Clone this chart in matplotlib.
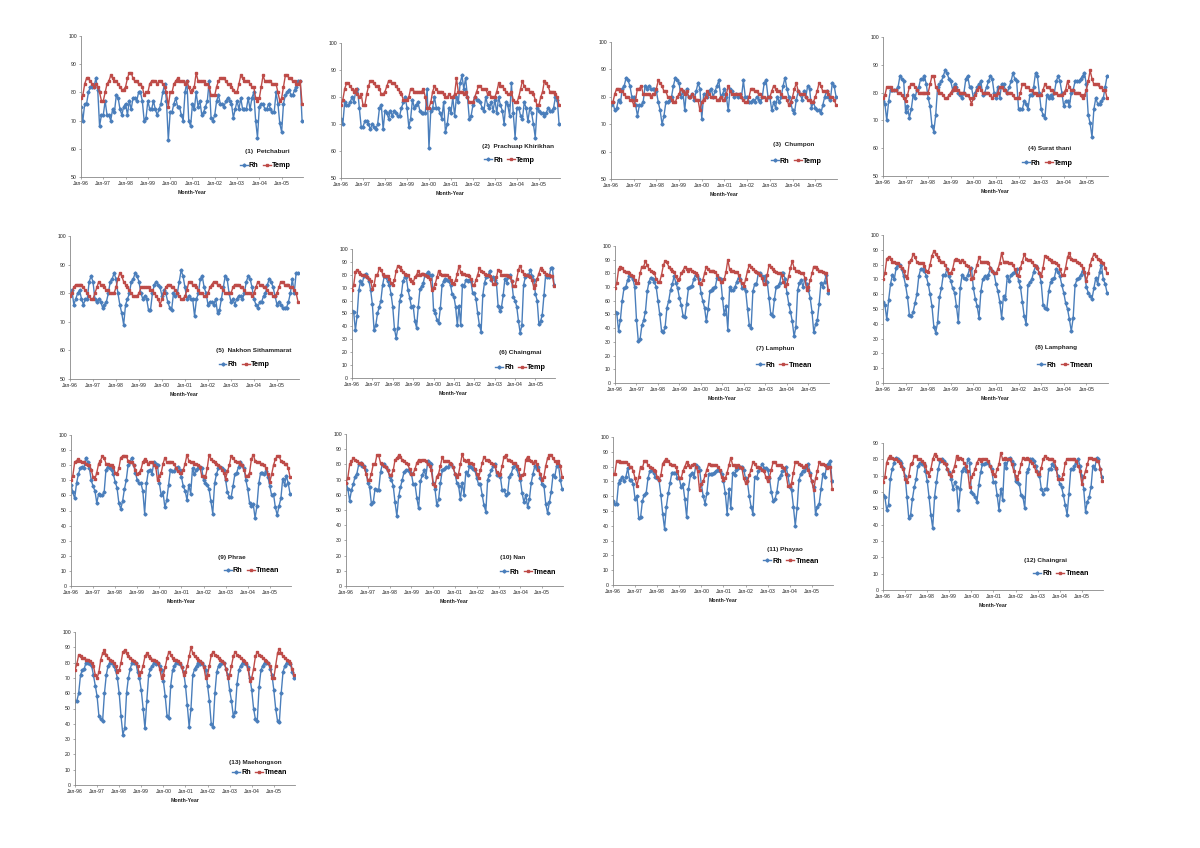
import matplotlib
matplotlib.use("Agg")
import matplotlib.pyplot as plt
from matplotlib.lines import Line2D

plt.rcParams['font.family'] = ['Liberation Sans', 'DejaVu Sans']

# ---------------- DATA ----------------
tick_labels = ["Jan-96", "Jan-97", "Jan-98", "Jan-99", "Jan-00",
               "Jan-01", "Jan-02", "Jan-03", "Jan-04", "Jan-05"]

station_labels = ["(1)  Petchaburi", "(2)  Prachuap Khirikhan", "(3)  Chumpon",
                  "(4) Surat thani", "(5)  Nakhon Sithammarat", "(6) Chaingmai",
                  "(7) Lamphun", "(8) Lamphang", "(9) Phrae", "(10) Nan",
                  "(11) Phayao", "(12) Chaingrai", "(13) Maehongson"]

second_series_names = ["Temp", "Temp", "Temp", "Temp", "Temp", "Temp",
                       "Tmean", "Tmean", "Tmean", "Tmean", "Tmean", "Tmean", "Tmean"]

y_ranges = [(50, 100)] * 5 + [(0, 100)] * 6 + [(0, 90), (0, 100)]

rh_petchaburi = [
    75, 70, 76, 76, 80, 82, 82, 82, 85, 81, 68, 72,
    72, 77, 72, 72, 70, 74, 73, 79, 78, 74, 72, 75,
    76, 72, 77, 74, 78, 78, 77, 80, 80, 77, 70, 71,
    77, 74, 74, 77, 74, 72, 74, 76, 80, 83, 77, 63,
    73, 73, 76, 78, 75, 75, 72, 70, 80, 84, 70, 68,
    76, 74, 80, 75, 77, 72, 73, 75, 77, 84, 71, 70,
    72, 77, 79, 76, 76, 75, 77, 78, 77, 76, 71, 74,
    77, 74, 78, 74, 74, 74, 78, 74, 78, 80, 70, 64,
    75, 76, 76, 74, 74, 76, 74, 73, 73, 80, 76, 69,
    66, 76, 79, 80, 81, 79, 79, 81, 82, 84, 84, 70]
temp_petchaburi = [
    78, 79, 83, 85, 85, 84, 83, 82, 83, 82, 80, 77,
    77, 80, 83, 84, 86, 85, 84, 84, 83, 82, 81, 81,
    82, 85, 87, 87, 85, 84, 84, 83, 83, 82, 79, 80,
    80, 83, 84, 84, 84, 83, 84, 84, 83, 82, 80, 75,
    80, 80, 83, 84, 85, 84, 84, 84, 83, 84, 82, 80,
    81, 82, 87, 84, 84, 84, 84, 83, 83, 82, 79, 79,
    79, 82, 84, 85, 85, 85, 84, 83, 83, 82, 81, 80,
    80, 83, 86, 85, 84, 84, 84, 83, 82, 82, 78, 77,
    78, 82, 86, 84, 84, 84, 84, 83, 83, 83, 80, 77,
    78, 82, 86, 86, 85, 85, 84, 84, 83, 83, 84, 76]

rh_prachuap = [
    72, 70, 78, 77, 77, 78, 80, 78, 82, 83, 76, 69,
    69, 71, 71, 70, 68, 70, 69, 68, 70, 76, 77, 68,
    75, 74, 72, 75, 73, 75, 74, 73, 73, 76, 78, 80,
    76, 69, 72, 79, 76, 77, 78, 75, 74, 74, 74, 83,
    61, 75, 76, 80, 76, 76, 74, 72, 78, 67, 70, 76,
    74, 80, 73, 80, 78, 85, 88, 83, 87, 80, 72, 73,
    77, 80, 79, 79, 78, 76, 75, 80, 77, 76, 78, 75,
    79, 74, 80, 77, 75, 70, 78, 77, 73, 85, 74, 65,
    76, 76, 73, 72, 78, 76, 71, 76, 74, 70, 65, 76,
    75, 74, 74, 73, 74, 76, 75, 75, 76, 80, 79, 70]
temp_prachuap = [
    77, 79, 83, 85, 85, 84, 83, 82, 83, 81, 80, 81,
    77, 77, 81, 84, 86, 86, 85, 84, 84, 83, 81, 81,
    82, 84, 86, 86, 85, 85, 84, 83, 82, 81, 79, 79,
    79, 80, 83, 83, 82, 82, 82, 82, 82, 83, 80, 76,
    76, 78, 82, 84, 83, 82, 82, 82, 81, 80, 80, 81,
    80, 80, 81, 87, 82, 82, 82, 81, 82, 80, 78, 78,
    78, 80, 82, 84, 84, 83, 83, 83, 81, 82, 80, 80,
    80, 82, 85, 84, 84, 83, 82, 81, 81, 82, 79, 78,
    78, 80, 83, 86, 84, 83, 83, 82, 82, 81, 79, 77,
    77, 80, 82, 86, 85, 84, 82, 82, 82, 81, 80, 77]

rh_chumpon = [
    77, 78, 75, 76, 79, 78, 83, 84, 87, 86, 84, 80,
    80, 77, 73, 77, 77, 78, 84, 83, 84, 83, 83, 83,
    82, 78, 75, 70, 73, 78, 78, 79, 80, 84, 87, 86,
    85, 80, 82, 75, 83, 80, 80, 81, 79, 82, 85, 83,
    72, 81, 81, 80, 82, 83, 80, 82, 84, 86, 80, 81,
    83, 80, 75, 83, 82, 80, 81, 80, 81, 80, 86, 80,
    80, 78, 78, 79, 78, 80, 79, 78, 80, 85, 86, 80,
    80, 75, 78, 76, 80, 78, 80, 84, 87, 83, 80, 78,
    75, 74, 79, 82, 81, 79, 82, 80, 84, 83, 76, 78,
    76, 75, 75, 74, 77, 80, 82, 80, 79, 85, 84, 80]
temp_chumpon = [
    78, 78, 81, 83, 83, 82, 82, 81, 80, 80, 79, 79,
    77, 79, 83, 83, 84, 81, 81, 81, 81, 80, 81, 81,
    83, 86, 85, 84, 82, 82, 80, 80, 79, 78, 78, 80,
    81, 83, 82, 81, 82, 80, 80, 81, 80, 79, 79, 75,
    78, 79, 80, 82, 81, 80, 80, 80, 79, 79, 80, 79,
    79, 81, 84, 82, 81, 81, 81, 81, 81, 80, 79, 78,
    78, 80, 83, 83, 82, 82, 81, 81, 80, 80, 79, 80,
    80, 82, 84, 83, 82, 82, 81, 80, 80, 79, 77, 78,
    80, 83, 85, 82, 81, 81, 81, 80, 79, 79, 78, 78,
    80, 82, 85, 84, 82, 82, 82, 81, 80, 80, 79, 77]

rh_surat = [
    77, 76, 70, 77, 81, 81, 81, 81, 82, 86, 85, 84,
    73, 75, 71, 74, 79, 78, 81, 82, 85, 85, 86, 83,
    78, 75, 68, 66, 72, 82, 83, 84, 86, 88, 87, 85,
    84, 81, 83, 82, 80, 79, 78, 80, 85, 86, 82, 82,
    78, 80, 82, 83, 84, 79, 80, 82, 84, 86, 85, 80,
    78, 82, 78, 83, 83, 81, 80, 82, 84, 87, 85, 84,
    74, 74, 74, 77, 76, 74, 79, 79, 82, 87, 86, 80,
    74, 72, 71, 79, 78, 79, 78, 80, 84, 86, 84, 80,
    75, 77, 77, 75, 80, 81, 84, 84, 84, 85, 86, 87,
    83, 72, 69, 64, 74, 78, 76, 76, 77, 78, 82, 86]
temp_surat = [
    78, 79, 82, 82, 82, 81, 81, 81, 80, 80, 79, 78,
    77, 79, 82, 83, 83, 82, 81, 80, 80, 80, 80, 80,
    80, 83, 86, 86, 82, 81, 80, 80, 79, 78, 78, 79,
    80, 81, 82, 81, 81, 80, 80, 80, 79, 79, 78, 76,
    78, 79, 81, 82, 81, 80, 80, 80, 80, 79, 78, 79,
    79, 80, 82, 82, 81, 81, 80, 80, 80, 79, 78, 78,
    78, 80, 83, 83, 82, 82, 81, 81, 80, 80, 79, 79,
    79, 81, 83, 82, 82, 81, 81, 80, 80, 79, 79, 79,
    80, 81, 84, 82, 81, 81, 80, 80, 80, 79, 78, 79,
    81, 84, 88, 85, 83, 83, 83, 82, 82, 81, 81, 78]

rh_nakhon = [
    80, 81, 76, 78, 80, 81, 78, 76, 78, 78, 84, 86,
    84, 78, 77, 78, 77, 75, 76, 77, 80, 84, 85, 87,
    85, 80, 76, 73, 69, 76, 78, 80, 84, 85, 87, 86,
    84, 80, 78, 79, 78, 74, 74, 80, 83, 84, 83, 82,
    79, 81, 80, 77, 75, 74, 80, 79, 80, 84, 88, 86,
    82, 78, 79, 78, 78, 72, 78, 80, 85, 86, 82, 80,
    76, 77, 77, 76, 78, 73, 74, 78, 82, 86, 85, 80,
    77, 78, 76, 78, 79, 79, 78, 80, 84, 86, 85, 82,
    78, 76, 75, 77, 77, 79, 80, 83, 85, 84, 82, 79,
    76, 77, 76, 75, 75, 75, 77, 80, 85, 80, 87, 87]
temp_nakhon = [
    79, 80, 82, 83, 83, 83, 83, 82, 81, 80, 79, 78,
    78, 80, 82, 84, 83, 83, 82, 81, 81, 80, 80, 80,
    82, 85, 87, 86, 84, 83, 82, 81, 80, 79, 79, 79,
    80, 82, 82, 82, 82, 82, 81, 81, 80, 79, 78, 76,
    78, 80, 82, 83, 83, 82, 82, 81, 80, 79, 78, 78,
    79, 81, 84, 84, 83, 83, 82, 81, 80, 80, 79, 79,
    80, 82, 83, 84, 84, 83, 83, 82, 81, 80, 80, 80,
    80, 82, 83, 83, 83, 82, 82, 81, 80, 80, 80, 79,
    80, 82, 84, 83, 83, 82, 82, 81, 80, 80, 79, 79,
    80, 82, 84, 84, 83, 83, 83, 82, 82, 81, 80, 77]

rh_chaingmai = [
    52, 51, 37, 48, 68, 75, 73, 79, 81, 78, 75, 68,
    57, 37, 41, 50, 55, 60, 72, 79, 78, 75, 72, 65,
    55, 38, 31, 39, 60, 64, 75, 78, 78, 68, 62, 55,
    56, 44, 39, 55, 69, 71, 74, 80, 81, 82, 80, 80,
    53, 50, 45, 43, 54, 72, 75, 77, 76, 75, 72, 65,
    63, 55, 41, 56, 41, 72, 71, 76, 75, 76, 75, 66,
    66, 61, 50, 41, 36, 64, 74, 78, 79, 83, 76, 78,
    76, 74, 56, 52, 55, 64, 77, 74, 78, 80, 75, 63,
    60, 55, 44, 35, 41, 72, 78, 80, 80, 84, 79, 76,
    65, 60, 42, 44, 49, 64, 80, 78, 78, 85, 85, 72]
temp_chaingmai = [
    68, 72, 82, 84, 82, 81, 80, 80, 79, 78, 77, 75,
    69, 72, 80, 80, 85, 84, 81, 79, 79, 79, 77, 74,
    72, 76, 83, 87, 86, 84, 82, 81, 80, 80, 77, 75,
    74, 78, 80, 83, 80, 81, 81, 80, 79, 78, 77, 68,
    70, 73, 78, 83, 81, 80, 80, 80, 80, 78, 76, 74,
    73, 76, 81, 87, 82, 81, 81, 80, 80, 79, 77, 72,
    72, 76, 80, 85, 83, 82, 81, 80, 80, 79, 77, 73,
    73, 78, 84, 83, 80, 80, 80, 80, 79, 78, 75, 71,
    71, 77, 84, 87, 83, 81, 80, 80, 79, 78, 76, 70,
    72, 77, 81, 85, 84, 82, 81, 80, 80, 79, 79, 71]

rh_lamphun = [
    52, 51, 38, 46, 60, 69, 70, 75, 78, 78, 76, 70,
    46, 31, 32, 42, 46, 52, 67, 74, 77, 76, 74, 70,
    60, 50, 38, 37, 41, 55, 60, 68, 72, 78, 73, 69,
    62, 57, 49, 48, 58, 69, 70, 71, 76, 79, 78, 76,
    66, 60, 55, 45, 54, 67, 68, 69, 70, 77, 77, 76,
    62, 50, 56, 39, 70, 68, 68, 70, 74, 77, 76, 69,
    69, 67, 54, 42, 40, 67, 72, 72, 80, 80, 78, 75,
    78, 74, 62, 50, 49, 61, 70, 71, 73, 80, 80, 76,
    66, 58, 52, 45, 34, 41, 68, 73, 75, 70, 76, 72,
    68, 62, 52, 37, 43, 46, 58, 73, 70, 74, 79, 66]
tmean_lamphun = [
    69, 73, 83, 85, 84, 82, 81, 81, 80, 79, 78, 75,
    73, 73, 80, 85, 85, 89, 86, 83, 82, 81, 80, 76,
    74, 74, 79, 86, 89, 88, 85, 83, 82, 81, 78, 75,
    76, 80, 82, 85, 83, 82, 83, 82, 81, 80, 79, 73,
    72, 75, 80, 85, 83, 82, 82, 82, 81, 79, 76, 74,
    74, 76, 81, 90, 83, 82, 82, 81, 81, 79, 75, 73,
    71, 76, 82, 86, 85, 83, 82, 81, 80, 79, 77, 72,
    72, 79, 86, 85, 83, 82, 81, 80, 80, 79, 74, 71,
    72, 78, 84, 89, 84, 82, 82, 81, 80, 80, 77, 68,
    70, 75, 80, 85, 85, 83, 82, 82, 81, 80, 80, 68]

rh_lamphang = [
    55, 53, 43, 56, 67, 73, 70, 78, 80, 80, 77, 72,
    66, 58, 46, 45, 48, 54, 60, 72, 77, 77, 76, 72,
    67, 60, 52, 38, 34, 41, 58, 64, 73, 73, 77, 72,
    69, 64, 61, 52, 41, 64, 73, 71, 70, 73, 77, 78,
    64, 57, 52, 44, 62, 70, 72, 71, 73, 78, 76, 74,
    67, 62, 55, 44, 59, 57, 72, 69, 73, 74, 75, 77,
    69, 65, 55, 45, 40, 66, 68, 70, 75, 79, 78, 74,
    68, 53, 51, 50, 62, 68, 70, 71, 77, 75, 72, 66,
    61, 54, 50, 43, 35, 44, 66, 70, 71, 73, 76, 74,
    65, 61, 59, 57, 64, 71, 67, 75, 80, 70, 67, 61]
tmean_lamphang = [
    70, 74, 84, 85, 84, 82, 82, 81, 81, 79, 78, 76,
    72, 71, 82, 83, 87, 85, 82, 81, 81, 81, 79, 76,
    75, 80, 86, 89, 87, 85, 83, 82, 82, 80, 77, 74,
    74, 77, 83, 84, 83, 82, 83, 82, 80, 79, 78, 70,
    71, 76, 80, 85, 82, 82, 82, 82, 81, 78, 76, 74,
    74, 77, 81, 88, 82, 82, 82, 81, 81, 80, 77, 73,
    72, 78, 82, 87, 84, 83, 83, 82, 80, 79, 78, 74,
    72, 78, 86, 85, 84, 83, 82, 82, 81, 80, 77, 73,
    73, 78, 85, 88, 84, 83, 83, 82, 81, 80, 78, 75,
    69, 74, 80, 84, 87, 86, 84, 83, 82, 81, 78, 74]

rh_phrae = [
    67, 62, 58, 68, 74, 78, 79, 78, 85, 82, 78, 70,
    66, 63, 55, 61, 60, 60, 62, 77, 79, 78, 77, 74,
    69, 65, 55, 51, 56, 64, 70, 80, 82, 85, 80, 75,
    70, 68, 68, 63, 48, 68, 76, 77, 74, 82, 81, 80,
    68, 60, 62, 52, 57, 67, 77, 76, 76, 78, 79, 77,
    72, 66, 63, 57, 67, 61, 78, 74, 77, 78, 79, 78,
    70, 68, 67, 64, 56, 48, 68, 74, 78, 79, 78, 77,
    70, 62, 59, 59, 66, 74, 75, 79, 82, 80, 78, 70,
    64, 55, 53, 54, 45, 53, 68, 75, 75, 74, 76, 72,
    66, 60, 61, 52, 47, 53, 58, 71, 67, 73, 68, 61]
tmean_phrae = [
    70, 73, 82, 83, 84, 83, 82, 82, 81, 80, 80, 77,
    72, 71, 75, 81, 83, 86, 85, 81, 81, 80, 80, 79,
    75, 74, 78, 85, 86, 86, 86, 83, 82, 82, 80, 77,
    74, 75, 77, 82, 84, 83, 81, 82, 82, 80, 79, 70,
    73, 75, 81, 85, 82, 82, 82, 82, 81, 78, 76, 75,
    75, 77, 81, 87, 83, 82, 82, 81, 81, 80, 79, 73,
    73, 72, 78, 87, 84, 83, 82, 81, 80, 79, 77, 75,
    71, 76, 80, 86, 85, 83, 82, 82, 81, 80, 77, 73,
    73, 75, 84, 87, 83, 82, 82, 81, 81, 80, 78, 74,
    69, 74, 80, 84, 86, 86, 83, 82, 81, 81, 78, 72]

rh_nan = [
    68, 64, 56, 63, 67, 72, 74, 80, 81, 79, 79, 76,
    68, 65, 54, 55, 64, 63, 63, 75, 80, 80, 78, 76,
    72, 70, 66, 55, 46, 59, 65, 70, 75, 76, 76, 75,
    74, 67, 67, 58, 51, 69, 73, 76, 72, 82, 81, 80,
    68, 64, 53, 57, 68, 76, 77, 78, 78, 80, 80, 78,
    74, 68, 66, 57, 68, 60, 75, 73, 79, 78, 77, 76,
    71, 67, 67, 60, 53, 49, 70, 73, 76, 79, 80, 73,
    74, 72, 63, 63, 60, 61, 72, 74, 78, 80, 77, 73,
    70, 61, 55, 60, 52, 57, 68, 74, 79, 77, 78, 71,
    67, 66, 54, 48, 55, 62, 73, 72, 79, 80, 70, 64]
tmean_nan = [
    68, 71, 80, 82, 84, 83, 82, 81, 81, 80, 78, 74,
    70, 70, 74, 80, 80, 86, 86, 81, 80, 79, 78, 76,
    73, 73, 76, 83, 84, 86, 85, 83, 82, 81, 80, 77,
    74, 74, 77, 81, 83, 82, 83, 83, 82, 80, 79, 76,
    67, 66, 72, 74, 79, 85, 82, 82, 82, 81, 80, 78,
    74, 72, 74, 80, 87, 83, 82, 83, 81, 81, 80, 77,
    74, 71, 76, 81, 85, 83, 83, 82, 81, 80, 79, 75,
    73, 74, 79, 85, 86, 83, 83, 82, 81, 81, 79, 77,
    71, 73, 74, 83, 85, 83, 82, 81, 82, 80, 76, 74,
    70, 72, 79, 84, 86, 86, 84, 82, 81, 82, 79, 72]

rh_phayao = [
    57, 55, 55, 69, 71, 73, 70, 73, 79, 71, 71, 68,
    58, 60, 45, 46, 57, 61, 62, 72, 77, 78, 76, 73,
    72, 71, 61, 48, 38, 53, 62, 69, 76, 76, 76, 72,
    72, 66, 68, 58, 46, 65, 74, 76, 73, 81, 80, 78,
    68, 60, 55, 62, 75, 75, 75, 76, 77, 78, 77, 75,
    70, 62, 48, 65, 52, 76, 74, 78, 79, 80, 80, 78,
    72, 70, 60, 53, 48, 73, 72, 77, 79, 82, 79, 79,
    78, 72, 63, 57, 58, 63, 72, 74, 77, 78, 80, 74,
    66, 64, 53, 40, 52, 71, 75, 77, 77, 79, 82, 76,
    70, 66, 48, 53, 55, 65, 75, 73, 80, 82, 84, 70]
tmean_phayao = [
    75, 75, 84, 84, 83, 83, 83, 83, 82, 80, 80, 77,
    72, 67, 73, 80, 79, 84, 84, 81, 80, 79, 78, 77,
    73, 71, 74, 82, 84, 85, 84, 82, 81, 81, 80, 77,
    72, 72, 77, 80, 83, 81, 80, 81, 82, 80, 77, 64,
    68, 70, 74, 78, 82, 81, 81, 81, 81, 80, 78, 73,
    71, 72, 76, 81, 86, 81, 81, 80, 81, 80, 79, 72,
    69, 70, 74, 78, 83, 82, 80, 80, 79, 78, 77, 73,
    70, 73, 78, 83, 83, 81, 81, 81, 80, 79, 75, 67,
    67, 69, 76, 83, 83, 82, 81, 80, 80, 81, 78, 74,
    70, 64, 72, 77, 83, 82, 82, 81, 79, 80, 80, 65]

rh_chaingrai = [
    58, 57, 49, 52, 68, 74, 78, 81, 80, 79, 78, 75,
    70, 57, 44, 46, 56, 63, 68, 76, 78, 77, 77, 73,
    67, 57, 46, 38, 57, 66, 74, 79, 80, 79, 77, 74,
    72, 68, 62, 66, 63, 49, 62, 73, 75, 73, 80, 78,
    60, 59, 57, 54, 64, 72, 77, 77, 78, 78, 76, 74,
    66, 66, 58, 49, 62, 55, 78, 75, 80, 81, 79, 77,
    67, 66, 65, 58, 57, 50, 72, 74, 80, 80, 79, 76,
    72, 70, 62, 59, 62, 62, 74, 74, 77, 76, 74, 70,
    65, 63, 58, 52, 46, 59, 74, 74, 76, 78, 80, 76,
    70, 62, 48, 54, 57, 63, 76, 74, 81, 80, 74, 69]
tmean_chaingrai = [
    66, 69, 78, 81, 82, 81, 80, 80, 79, 78, 76, 74,
    68, 66, 70, 77, 78, 82, 82, 80, 80, 79, 78, 76,
    72, 70, 74, 80, 83, 82, 80, 80, 79, 78, 77, 74,
    71, 70, 73, 76, 82, 80, 81, 80, 78, 76, 73, 63,
    69, 71, 74, 78, 80, 79, 80, 80, 80, 79, 76, 73,
    71, 70, 74, 77, 84, 80, 81, 80, 80, 80, 77, 73,
    70, 68, 72, 77, 81, 80, 81, 80, 79, 78, 76, 73,
    71, 71, 75, 80, 82, 81, 80, 80, 80, 79, 75, 68,
    68, 68, 71, 78, 80, 80, 80, 80, 80, 79, 76, 73,
    65, 69, 73, 77, 81, 81, 80, 80, 79, 79, 74, 67]

rh_maehongson = [
    55, 55, 60, 72, 75, 76, 80, 80, 79, 78, 72, 65,
    58, 45, 43, 42, 60, 72, 78, 80, 80, 78, 75, 70,
    60, 45, 33, 37, 60, 70, 76, 80, 80, 80, 74, 70,
    62, 50, 37, 55, 72, 76, 78, 80, 79, 80, 78, 75,
    68, 58, 45, 44, 65, 75, 78, 80, 80, 79, 77, 74,
    65, 52, 38, 50, 72, 76, 78, 80, 79, 80, 78, 75,
    65, 55, 40, 38, 60, 74, 78, 79, 80, 80, 76, 72,
    62, 55, 45, 48, 66, 75, 78, 80, 80, 79, 77, 70,
    62, 50, 43, 42, 64, 75, 78, 80, 80, 80, 76, 72,
    62, 50, 42, 41, 60, 74, 78, 80, 80, 79, 74, 70]
tmean_maehongson = [
    75, 79, 85, 84, 83, 83, 82, 82, 81, 80, 78, 72,
    70, 74, 82, 86, 88, 85, 83, 82, 81, 80, 78, 74,
    75, 80, 87, 88, 86, 84, 83, 82, 81, 80, 78, 72,
    74, 78, 84, 86, 84, 83, 82, 82, 81, 80, 76, 70,
    72, 77, 83, 87, 85, 83, 82, 82, 81, 80, 77, 72,
    74, 78, 84, 90, 86, 84, 83, 82, 81, 80, 77, 70,
    72, 78, 85, 87, 85, 84, 83, 82, 81, 80, 76, 70,
    72, 78, 84, 87, 85, 84, 83, 82, 81, 80, 76, 68,
    70, 76, 84, 87, 85, 84, 83, 82, 81, 80, 78, 70,
    70, 78, 86, 89, 86, 84, 83, 82, 81, 80, 76, 72]

rh_series = [rh_petchaburi, rh_prachuap, rh_chumpon, rh_surat, rh_nakhon,
             rh_chaingmai, rh_lamphun, rh_lamphang, rh_phrae, rh_nan,
             rh_phayao, rh_chaingrai, rh_maehongson]
t_series = [temp_petchaburi, temp_prachuap, temp_chumpon, temp_surat, temp_nakhon,
            temp_chaingmai, tmean_lamphun, tmean_lamphang, tmean_phrae, tmean_nan,
            tmean_phayao, tmean_chaingrai, tmean_maehongson]

# ---------------- LAYOUT (pixel boxes: left, top, right, bottom) ----------------
W, H = 1200, 848
boxes = [(81, 36, 303, 177), (341, 43, 560, 178), (611, 42, 837, 179), (883, 37, 1108, 176),
         (70, 236, 299, 379), (352, 249, 555, 378), (615, 246, 829, 383), (883, 235, 1108, 383),
         (71, 435, 291, 586), (346, 434, 563, 586), (613, 437, 833, 585), (883, 443, 1103, 590),
         (75, 632, 295, 785)]
label_pos = [(0.84, 0.18), (0.81, 0.23), (0.81, 0.25), (0.74, 0.20), (0.80, 0.20),
             (0.83, 0.20), (0.75, 0.25), (0.77, 0.24), (0.73, 0.19), (0.77, 0.19),
             (0.78, 0.24), (0.74, 0.20), (0.82, 0.15)]
legend_pos = [(0.83, 0.08), (0.77, 0.13), (0.82, 0.13), (0.73, 0.09), (0.76, 0.10),
              (0.83, 0.08), (0.79, 0.13), (0.81, 0.12), (0.82, 0.10), (0.84, 0.09),
              (0.81, 0.16), (0.81, 0.11), (0.84, 0.08)]

BLUE = "#4A7EBB"
RED = "#BE4B48"

fig = plt.figure(figsize=(W / 100, H / 100), dpi=100)
fig.patch.set_facecolor("white")

x = list(range(120))
for i in range(13):
    l, t, r, b = boxes[i]
    ax = fig.add_axes([l / W, 1 - b / H, (r - l) / W, (b - t) / H])
    ax.plot(x, rh_series[i], color=BLUE, lw=1.0, marker="D", ms=1.6,
            mec=BLUE, mfc=BLUE, zorder=2)
    ax.plot(x, t_series[i], color=RED, lw=1.0, marker="s", ms=1.8,
            mec=RED, mfc=RED, zorder=3)
    ymin, ymax = y_ranges[i]
    ax.set_ylim(ymin, ymax)
    ax.set_yticks(list(range(ymin, ymax + 1, 10)))
    ax.set_xlim(0, 119.5)
    ax.set_xticks([12 * k for k in range(10)])
    ax.set_xticklabels(tick_labels)
    ax.tick_params(axis="both", labelsize=3.7, length=1.5, width=0.5,
                   colors="#888888", labelcolor="#222222", pad=1.5)
    for s in ("top", "right"):
        ax.spines[s].set_visible(False)
    for s in ("left", "bottom"):
        ax.spines[s].set_color("#888888")
        ax.spines[s].set_linewidth(0.6)
    ax.set_xlabel("Month-Year", fontsize=3.8, fontweight="bold", labelpad=3, color="#222222")
    ax.text(label_pos[i][0], label_pos[i][1], station_labels[i], transform=ax.transAxes,
            ha="center", va="center", fontsize=4.6, fontweight="bold", color="#222222")
    handles = [Line2D([0], [0], color=BLUE, lw=1.0, marker="D", ms=1.6),
               Line2D([0], [0], color=RED, lw=1.0, marker="s", ms=1.8)]
    leg = ax.legend(handles, ["Rh", second_series_names[i]], loc="center",
                    bbox_to_anchor=legend_pos[i], ncol=2, frameon=False,
                    prop={"size": 5.2, "weight": "bold"}, handlelength=1.1,
                    handletextpad=0.15, columnspacing=0.6, borderpad=0.1)

fig.savefig("out.png", dpi=100, facecolor="white")
